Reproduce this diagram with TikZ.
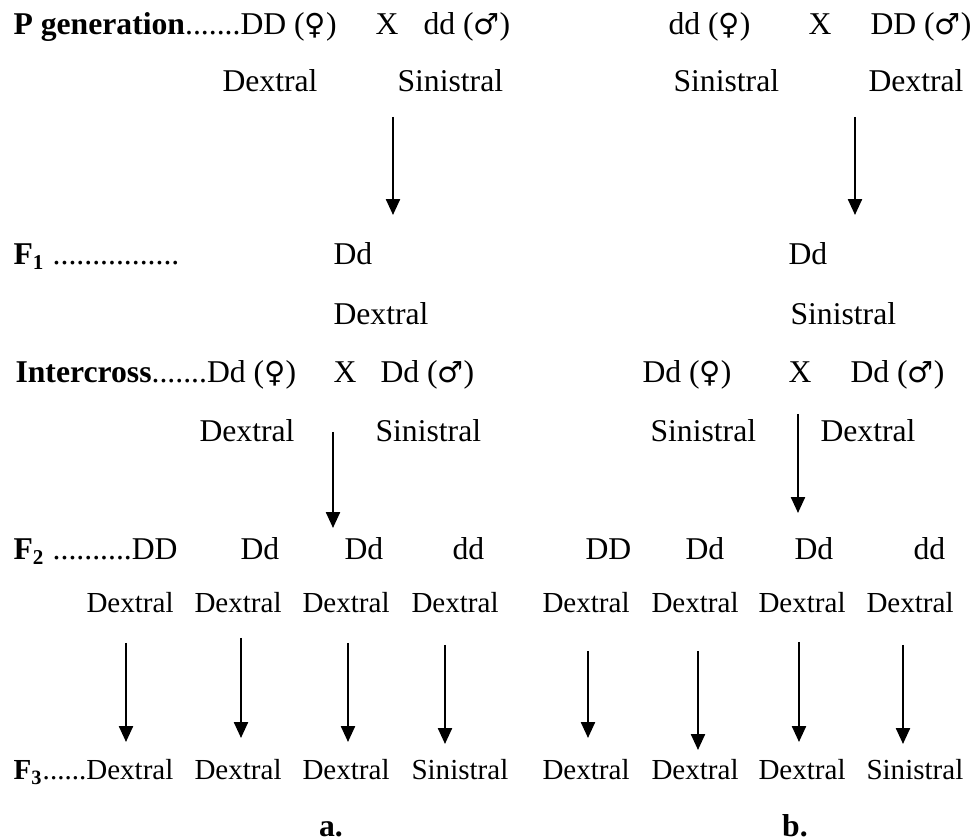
\documentclass[tikz,border=0pt]{standalone}
\usepackage{fontspec}
\setmainfont{Liberation Serif}
\newfontfamily\symfont{DejaVu Sans}
\newcommand{\fem}{{\symfont\fontsize{11}{13}\selectfont ♀}}
\newcommand{\mal}{{\symfont\fontsize{11}{13}\selectfont ♂}}
\usetikzlibrary{arrows.meta}

\begin{document}
\begin{tikzpicture}[
    x=0.3788pt, y=-0.3788pt,
    txt/.style={inner sep=0pt, anchor=base west, font=\fontsize{12}{14}\selectfont},
    sml/.style={inner sep=0pt, anchor=base west, font=\fontsize{11}{13}\selectfont},
    lbl/.style={inner sep=0pt, anchor=base, font=\fontsize{12}{14}\selectfont\bfseries},
    arrow/.style={-{Triangle[width=5.3pt, length=6pt]}, line width=0.75pt}
]
    \useasboundingbox (0,0) rectangle (980,840);

    \node[txt] (pgen) at (13,35) {\textbf{P generation}.......DD (\fem)};
    \node[txt] (pxa) at (375,35) {X};
    \node[txt] (pmala) at (423,35) {dd (\mal)};
    \node[txt] (pfemb) at (668,35) {dd (\fem)};
    \node[txt] (pxb) at (808,35) {X};
    \node[txt] (pmalb) at (870,35) {DD (\mal)};

    \node[txt] (pdexa) at (222,92) {Dextral};
    \node[txt] (psina) at (397,92) {Sinistral};
    \node[txt] (psinb) at (673,92) {Sinistral};
    \node[txt] (pdexb) at (868,92) {Dextral};

    \coordinate (aonea) at (393,117);
    \coordinate (aoneaend) at (393,215);
    \coordinate (aoneb) at (855,117);
    \coordinate (aonebend) at (855,215);
    \draw[arrow] (aonea) -- (aoneaend);
    \draw[arrow] (aoneb) -- (aonebend);

    \node[txt] (fone) at (13,265) {\textbf{F\textsubscript{1}} ................};
    \node[txt] (fonea) at (333,265) {Dd};
    \node[txt] (foneb) at (788,265) {Dd};
    \node[txt] (fphena) at (333,325) {Dextral};
    \node[txt] (fphenb) at (790,325) {Sinistral};

    \node[txt] (inter) at (15,383) {\textbf{Intercross}.......Dd (\fem)};
    \node[txt] (ixa) at (333,383) {X};
    \node[txt] (imala) at (380,383) {Dd (\mal)};
    \node[txt] (ifemb) at (642,383) {Dd (\fem)};
    \node[txt] (ixb) at (788,383) {X};
    \node[txt] (imalb) at (850,383) {Dd (\mal)};

    \node[txt] (idexa) at (199,442) {Dextral};
    \node[txt] (isina) at (375,442) {Sinistral};
    \node[txt] (isinb) at (650,442) {Sinistral};
    \node[txt] (idexb) at (820,442) {Dextral};

    \coordinate (atwoa) at (333,432);
    \coordinate (atwoaend) at (333,528);
    \coordinate (atwob) at (798,414);
    \coordinate (atwobend) at (798,513);
    \draw[arrow] (atwoa) -- (atwoaend);
    \draw[arrow] (atwob) -- (atwobend);

    \node[txt] (ftwo) at (13,560) {\textbf{F\textsubscript{2}} ..........DD};
    \node[txt] (gtwoa) at (240,560) {Dd};
    \node[txt] (gthreea) at (344,560) {Dd};
    \node[txt] (gfoura) at (452,560) {dd};
    \node[txt] (goneb) at (585,560) {DD};
    \node[txt] (gtwob) at (685,560) {Dd};
    \node[txt] (gthreeb) at (794,560) {Dd};
    \node[txt] (gfourb) at (913,560) {dd};

    \node[sml] (sonea) at (86,613) {Dextral};
    \node[sml] (stwoa) at (194,613) {Dextral};
    \node[sml] (sthreea) at (302,613) {Dextral};
    \node[sml] (sfoura) at (411,613) {Dextral};
    \node[sml] (soneb) at (542,613) {Dextral};
    \node[sml] (stwob) at (651,613) {Dextral};
    \node[sml] (sthreeb) at (758,613) {Dextral};
    \node[sml] (sfourb) at (866,613) {Dextral};

    \coordinate (bonea) at (126,643);
    \coordinate (boneaend) at (126,742);
    \coordinate (btwoa) at (241,638);
    \coordinate (btwoaend) at (241,738);
    \coordinate (bthreea) at (348,643);
    \coordinate (bthreeaend) at (348,742);
    \coordinate (bfoura) at (445,645);
    \coordinate (bfouraend) at (445,744);
    \coordinate (boneb) at (588,651);
    \coordinate (bonebend) at (588,738);
    \coordinate (btwob) at (698,651);
    \coordinate (btwobend) at (698,750);
    \coordinate (bthreeb) at (799,642);
    \coordinate (bthreebend) at (799,742);
    \coordinate (bfourb) at (903,645);
    \coordinate (bfourbend) at (903,744);
    \draw[arrow] (bonea) -- (boneaend);
    \draw[arrow] (btwoa) -- (btwoaend);
    \draw[arrow] (bthreea) -- (bthreeaend);
    \draw[arrow] (bfoura) -- (bfouraend);
    \draw[arrow] (boneb) -- (bonebend);
    \draw[arrow] (btwob) -- (btwobend);
    \draw[arrow] (bthreeb) -- (bthreebend);
    \draw[arrow] (bfourb) -- (bfourbend);

    \node[sml] (fthree) at (13,780) {\textbf{F\textsubscript{3}}......Dextral};
    \node[sml] (ttwoa) at (194,780) {Dextral};
    \node[sml] (tthreea) at (302,780) {Dextral};
    \node[sml] (tfoura) at (411,780) {Sinistral};
    \node[sml] (toneb) at (542,780) {Dextral};
    \node[sml] (ttwob) at (651,780) {Dextral};
    \node[sml] (tthreeb) at (758,780) {Dextral};
    \node[sml] (tfourb) at (866,780) {Sinistral};

    \node[lbl] (capa) at (331,837) {a.};
    \node[lbl] (capb) at (795,837) {b.};
\end{tikzpicture}
\end{document}
